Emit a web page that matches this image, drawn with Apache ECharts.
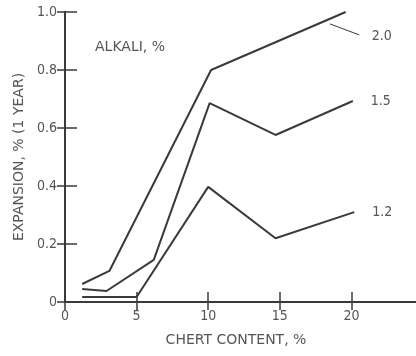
<!DOCTYPE html>
<html>
<head>
<meta charset="utf-8">
<script src="https://cdn.jsdelivr.net/npm/echarts@6/dist/echarts.min.js"></script>
<style>
  html, body { margin: 0; padding: 0; background: #fff; }
  #main { width: 416px; height: 356px; }
</style>
</head>
<body>
<div id="main"></div>
<script>
// chert content (%) vs expansion (%) after 1 year, one line per alkali level
var alkali20 = [[1.2, 0.062], [3.1, 0.107], [10.2, 0.80], [19.6, 1.0]];
var alkali15 = [[1.2, 0.045], [2.9, 0.038], [6.2, 0.145], [10.1, 0.686], [14.7, 0.576], [20.1, 0.693]];
var alkali12 = [[1.2, 0.017], [5.0, 0.017], [10.0, 0.397], [14.7, 0.22], [20.2, 0.31]];
var seriesNames = ['2.0', '1.5', '1.2'];
var leader20 = [[18.5, 0.959], [20.55, 0.921]];

var ink = '#3a3a3a';
var textCol = '#555';
var font = '"Liberation Sans Narrow", "DejaVu Sans Condensed", sans-serif';

var dom = document.getElementById('main');
var myChart = echarts.init(dom);

function lineSeries(name, data, offset) {
    return {
        name: name,
        type: 'line',
        data: data,
        symbol: 'none',
        animation: false,
        lineStyle: { color: ink, width: 2 },
        endLabel: {
            show: true,
            formatter: name,
            offset: offset,
            color: textCol,
            fontFamily: font,
            fontSize: 14
        }
    };
}

var option = {
    backgroundColor: '#fff',
    grid: { left: 65, top: 12, bottom: 54, width: 358, outerBoundsMode: 'none' },
    xAxis: [
        {
            type: 'value', min: 0, max: 25, interval: 5,
            name: 'CHERT CONTENT, %',
            nameLocation: 'middle', nameGap: 31,
            nameTextStyle: { color: textCol, fontSize: 14, fontFamily: 'DejaVu Sans', padding: [0, 16, 0, 0] },
            axisLine: { lineStyle: { color: ink, width: 2 } },
            axisTick: { inside: true, length: 10, lineStyle: { color: ink, width: 1.5 } },
            axisLabel: {
                color: textCol, fontSize: 14, fontFamily: font, margin: 7,
                formatter: function (v) { return v >= 25 ? '' : String(v); }
            },
            splitLine: { show: false }
        },
        {
            type: 'value', min: 0, max: 25, interval: 5, position: 'top',
            axisLine: { lineStyle: { color: ink, width: 2 } },
            axisTick: { inside: true, length: 8, lineStyle: { color: ink, width: 1.5 } },
            axisLabel: { show: false },
            splitLine: { show: false }
        }
    ],
    yAxis: [
        {
            type: 'value', min: 0, max: 1, interval: 0.2,
            name: 'EXPANSION, % (1 YEAR)',
            nameLocation: 'middle', nameGap: 37, nameRotate: 90,
            nameTextStyle: { color: textCol, fontSize: 14, fontFamily: 'DejaVu Sans' },
            axisLine: { lineStyle: { color: ink, width: 2 } },
            axisTick: { inside: true, length: 12, lineStyle: { color: ink, width: 1.5 } },
            axisLabel: {
                color: textCol, fontSize: 14, fontFamily: font, margin: 8,
                formatter: function (v) { return v === 0 ? '0' : v.toFixed(1); }
            },
            splitLine: { show: false }
        },
        {
            type: 'value', min: 0, max: 1, interval: 0.2, position: 'right',
            axisLine: { lineStyle: { color: ink, width: 2 } },
            axisTick: { inside: true, length: 8, lineStyle: { color: ink, width: 1.5 } },
            axisLabel: { show: false },
            splitLine: { show: false }
        }
    ],
    graphic: [
        {
            type: 'text', left: 95, top: 40,
            style: { text: 'ALKALI, %', fill: textCol, fontSize: 14, fontFamily: 'DejaVu Sans' }
        }
    ],
    series: [
        Object.assign(lineSeries(seriesNames[0], alkali20, [18, 24]), {
            markLine: {
                silent: true, symbol: 'none', animation: false,
                label: { show: false },
                lineStyle: { color: ink, width: 1, type: 'solid' },
                data: [[{ coord: leader20[0] }, { coord: leader20[1] }]]
            }
        }),
        lineSeries(seriesNames[1], alkali15, [10, 0]),
        lineSeries(seriesNames[2], alkali12, [10, 0])
    ]
};

myChart.setOption(option);
</script>
</body>
</html>
